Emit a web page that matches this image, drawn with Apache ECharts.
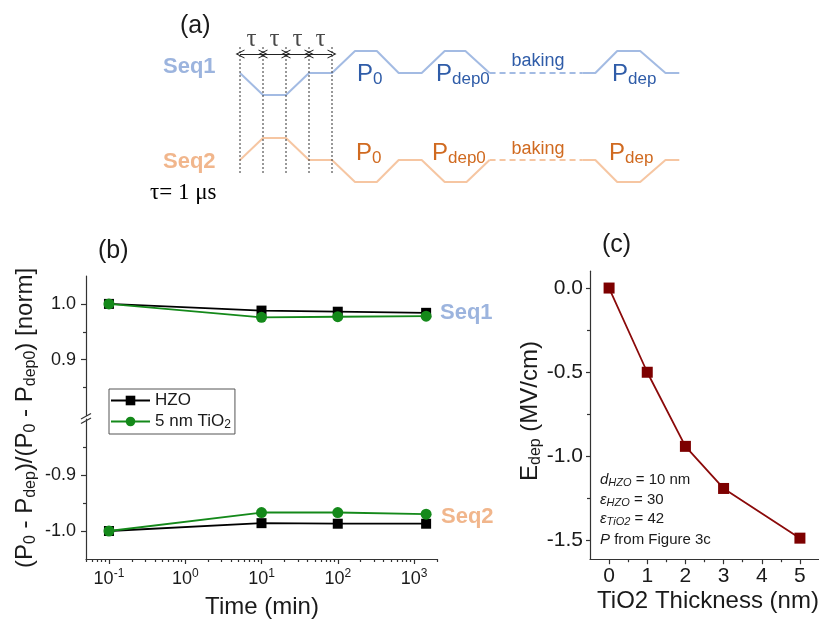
<!DOCTYPE html>
<html>
<head>
<meta charset="utf-8">
<script src="https://cdn.jsdelivr.net/npm/echarts@6/dist/echarts.min.js"></script>
<style>
html, body { margin: 0; padding: 0; background: #ffffff; }
#chart { width: 819px; height: 621px; }
</style>
</head>
<body>
<div id="chart"></div>
<script>
// ---------- (a) pulse sequences: time in units of tau, normalised level ----------
const seq1Time  = [0, 1, 2, 3, 4, 5, 5.95, 6.9, 7.9, 8.9, 9.8, 10.85, 14.9, 15.45, 16.4, 17.4, 18.5, 19.1];
const seq1Level = [0, -1, -1, 0, 0, 1, 1, 0, 0, 1, 1, 0, 0, 0, 1, 1, 0, 0];
const seq2Time  = [0, 1, 2, 3, 4, 5, 5.95, 6.9, 7.9, 8.9, 9.85, 10.85, 14.9, 15.45, 16.4, 17.4, 18.5, 19.1];
const seq2Level = [0, 1, 1, 0, 0, -1, -1, 0, 0, -1, -1, 0, 0, 0, -1, -1, 0, 0];
const bakingStart = 11;            // index where the baking interval begins
const bakingEnd = 12;              // index where it ends
const tauEdges = [0, 1, 2, 3, 4];  // boundaries of the four tau slots

// ---------- (b) normalised retention vs. time ----------
const timeMin  = [0.1, 10, 100, 1440];
const hzoSeq1  = [1.000, 0.988, 0.986, 0.984];
const tio2Seq1 = [1.000, 0.976, 0.977, 0.978];
const hzoSeq2  = [-1.000, -0.986, -0.987, -0.987];
const tio2Seq2 = [-1.000, -0.967, -0.967, -0.970];
const bUpperTicks = [0.9, 1.0];
const bUpperMinor = [0.85, 0.95];
const bLowerTicks = [-1.0, -0.9];
const bLowerMinor = [-0.95, -0.85];
const timeDecades = [0.1, 1, 10, 100, 1000];

// ---------- (c) depolarisation field vs. TiO2 thickness ----------
const tio2Thickness = [0, 1, 2, 3, 5];
const eDep = [0.0, -0.50, -0.94, -1.19, -1.485];
const cYTicks = [0.0, -0.5, -1.0, -1.5];
const cYMinor = [-0.25, -0.75, -1.25];
const cXTicks = [0, 1, 2, 3, 4, 5];
const cXMinor = [0.5, 1.5, 2.5, 3.5, 4.5];

const SANS = '"Liberation Sans", Arial, Helvetica, sans-serif';
const SERIF = '"Liberation Serif", "Times New Roman", serif';
const INK = '#1a1a1a';
const SEQ1_LINE = '#a3bbe3', SEQ1_HEAD = '#9cb4de', SEQ1_TEXT = '#2f5ca8';
const SEQ2_LINE = '#f6c6a2', SEQ2_HEAD = '#f1b68c', SEQ2_TEXT = '#d06a20';

// minor ticks of the logarithmic time axis (2..9 of every decade)
const logMinor = [];
[0.01, 0.1, 1, 10, 100, 1000].forEach(d => {
  for (let k = 2; k <= 9; k++) {
    const v = +(k * d).toPrecision(3);
    if (v >= 0.05 && v <= 2000) logMinor.push(v);
  }
});

function pts(xs, ys, from, to) {
  const out = [];
  for (let i = from; i <= to; i++) out.push([xs[i], ys[i]]);
  return out;
}
function zip(xs, ys) { return xs.map((x, i) => [x, ys[i]]); }

const chart = echarts.init(document.getElementById('chart'), null, { renderer: 'canvas' });

const hidden = { show: false };
const aX = gi => ({ gridIndex: gi, type: 'value', min: 0, max: 19.1, show: false });

function waveSeries(grid, xs, ys, color) {
  const base = {
    type: 'line', xAxisIndex: grid, yAxisIndex: grid, symbol: 'none', silent: true,
    lineStyle: { color: color, width: 2 }, animation: false, clip: false
  };
  return [
    Object.assign({}, base, { data: pts(xs, ys, 0, bakingStart) }),
    Object.assign({}, base, { data: pts(xs, ys, bakingStart, bakingEnd),
      lineStyle: { color: color, width: 2, type: [6, 4] } }),
    Object.assign({}, base, { data: pts(xs, ys, bakingEnd, xs.length - 1) })
  ];
}

const chevron = 'path://M0,10 L5,0 L10,10 L8.8,10 L5,2.6 L1.2,10 Z';
const tauSlots = tauEdges.slice(0, -1).map((e, i) => [e, tauEdges[i + 1]]);

const edgeSeries = tauEdges.map((e, i) => ({
  type: 'line', xAxisIndex: 0, yAxisIndex: 0, symbol: 'none', silent: true, clip: false,
  data: [[e, 0], [e, 1]],
  lineStyle: { color: '#333', width: 1, type: [2, 2] },
  markLine: i === 0 ? {
    silent: true, symbol: [chevron, chevron], symbolSize: [9, 9],
    label: { show: false },
    lineStyle: { color: '#222', width: 1, type: 'solid' },
    data: tauSlots.map(s => [{ coord: [s[0], 0.93] }, { coord: [s[1], 0.93] }])
  } : undefined
}));

const tauLabels = {
  type: 'scatter', xAxisIndex: 0, yAxisIndex: 0, silent: true, clip: false,
  symbolSize: 1, itemStyle: { color: 'rgba(0,0,0,0)' },
  data: tauSlots.map(s => [(s[0] + s[1]) / 2, 1.04]),
  label: { show: true, position: 'inside', formatter: () => 'τ',
           fontFamily: SERIF, fontSize: 25, color: INK }
};

const bLine = (name, grid, ys, color, symbol, size) => ({
  name: name, type: 'line', xAxisIndex: grid, yAxisIndex: grid,
  data: zip(timeMin, ys), symbol: symbol, symbolSize: size,
  lineStyle: { color: color, width: 1.8 }, itemStyle: { color: color },
  animation: false
});

const subRich = (fs, fill, extra) => Object.assign({ fontSize: fs, lineHeight: fs - 2,
  verticalAlign: 'bottom', fontFamily: SANS, fill: fill }, extra || {});

function pLabel(x, y, sub, fill) {
  return {
    type: 'text', x: x, y: y, silent: true,
    style: {
      text: '{p|P}{s|' + sub + '}', align: 'left', verticalAlign: 'middle',
      rich: {
        p: { fontSize: 24, lineHeight: 28, fontFamily: SANS, fill: fill },
        s: subRich(17, fill)
      }
    }
  };
}
function plain(x, y, text, size, fill, extra) {
  return {
    type: 'text', x: x, y: y, silent: true,
    style: Object.assign({ text: text, fontSize: size, fontFamily: SANS, fill: fill,
      align: 'left', verticalAlign: 'middle' }, extra || {})
  };
}
function noteLine(y, lead, sub, rest) {
  return {
    type: 'text', x: 600, y: y, silent: true,
    style: {
      text: '{i|' + lead + '}' + (sub ? '{s|' + sub + '}' : '') + '{r|' + rest + '}',
      align: 'left', verticalAlign: 'middle',
      rich: {
        i: { fontSize: 15, lineHeight: 17, fontFamily: SANS, fontStyle: 'italic', fill: INK },
        s: { fontSize: 11, lineHeight: 10, fontFamily: SANS, fontStyle: 'italic',
             verticalAlign: 'bottom', fill: INK },
        r: { fontSize: 15, lineHeight: 17, fontFamily: SANS, fill: INK }
      }
    }
  };
}

const axisLineStyle = { show: true, onZero: false, lineStyle: { color: '#333', width: 1.2 } };
const noLine = { show: false, onZero: false };
const tickStyle = { lineStyle: { color: '#333', width: 1.2 } };
const labelFont = { fontFamily: SANS, color: INK };

const option = {
  animation: false,
  backgroundColor: '#ffffff',
  grid: [
    { left: 240, right: 139.7, top: 45, height: 128 },     // (a) timing marks
    { left: 240, right: 139.7, top: 51, height: 44 },      // (a) Seq1
    { left: 240, right: 139.7, top: 138, height: 44 },     // (a) Seq2
    { left: 86, width: 351, top: 276, height: 139.5 },     // (b) upper branch
    { left: 86, width: 351, top: 419, height: 140 },       // (b) lower branch
    { left: 590, right: -8, top: 271.2, bottom: 61.8 }     // (c)
  ],
  xAxis: [
    aX(0), aX(1), aX(2),
    { gridIndex: 3, type: 'log', min: 0.05, max: 2000, show: false },
    { gridIndex: 4, type: 'log', min: 0.05, max: 2000, position: 'bottom',
      axisLine: axisLineStyle, splitLine: hidden, minorTick: hidden,
      axisTick: Object.assign({ customValues: timeDecades, length: 5 }, tickStyle),
      axisLabel: Object.assign({ customValues: timeDecades, fontSize: 18, lineHeight: 22, margin: 9,
        formatter: v => '10{sup|' + Math.round(Math.log10(v)) + '}',
        rich: { sup: { fontSize: 12, lineHeight: 12, verticalAlign: 'top', fontFamily: SANS, color: INK } }
      }, labelFont) },
    { gridIndex: 4, type: 'log', min: 0.05, max: 2000, position: 'bottom', offset: 0,
      axisLine: noLine, splitLine: hidden, axisLabel: hidden,
      axisTick: Object.assign({ customValues: logMinor, length: 3 }, tickStyle) },
    { gridIndex: 5, type: 'value', min: -0.5, max: 5.5, position: 'bottom',
      axisLine: axisLineStyle, splitLine: hidden,
      axisTick: Object.assign({ customValues: cXTicks, length: 5 }, tickStyle),
      axisLabel: Object.assign({ customValues: cXTicks, fontSize: 21, margin: 7,
        formatter: v => String(v) }, labelFont) },
    { gridIndex: 5, type: 'value', min: -0.5, max: 5.5, position: 'bottom', offset: 0,
      axisLine: noLine, splitLine: hidden, axisLabel: hidden,
      axisTick: Object.assign({ customValues: cXMinor, length: 3 }, tickStyle) }
  ],
  yAxis: [
    { gridIndex: 0, type: 'value', min: 0, max: 1, show: false },
    { gridIndex: 1, type: 'value', min: -1, max: 1, show: false },
    { gridIndex: 2, type: 'value', min: -1, max: 1, show: false },
    { gridIndex: 3, type: 'value', min: 0.8, max: 1.05, position: 'left',
      axisLine: axisLineStyle, splitLine: hidden,
      axisTick: Object.assign({ customValues: bUpperTicks, length: 5 }, tickStyle),
      axisLabel: Object.assign({ customValues: bUpperTicks, fontSize: 18, margin: 10,
        formatter: v => v.toFixed(1) }, labelFont) },
    { gridIndex: 4, type: 'value', min: -1.05, max: -0.8, position: 'left',
      axisLine: axisLineStyle, splitLine: hidden,
      axisTick: Object.assign({ customValues: bLowerTicks, length: 5 }, tickStyle),
      axisLabel: Object.assign({ customValues: bLowerTicks, fontSize: 18, margin: 10,
        formatter: v => v.toFixed(1) }, labelFont) },
    { gridIndex: 5, type: 'value', min: -1.61, max: 0.1, position: 'left',
      axisLine: axisLineStyle, splitLine: hidden,
      axisTick: Object.assign({ customValues: cYTicks, length: 4 }, tickStyle),
      axisLabel: Object.assign({ customValues: cYTicks, fontSize: 21, margin: 7,
        formatter: v => v.toFixed(1) }, labelFont) },
    { gridIndex: 3, type: 'value', min: 0.8, max: 1.05, position: 'left', offset: 0,
      axisLine: noLine, splitLine: hidden, axisLabel: hidden,
      axisTick: Object.assign({ customValues: bUpperMinor, length: 3 }, tickStyle) },
    { gridIndex: 4, type: 'value', min: -1.05, max: -0.8, position: 'left', offset: 0,
      axisLine: noLine, splitLine: hidden, axisLabel: hidden,
      axisTick: Object.assign({ customValues: bLowerMinor, length: 3 }, tickStyle) },
    { gridIndex: 5, type: 'value', min: -1.61, max: 0.1, position: 'left', offset: 0,
      axisLine: noLine, splitLine: hidden, axisLabel: hidden,
      axisTick: Object.assign({ customValues: cYMinor, length: 3 }, tickStyle) }
  ],
  legend: {
    data: ['HZO', '5 nm TiO2'],
    orient: 'vertical', left: 109, top: 389,
    padding: [2, 4, 3, 1], itemGap: 2, itemWidth: 39, itemHeight: 12,
    borderColor: '#555', borderWidth: 1, borderRadius: 0,
    selectedMode: false,
    formatter: n => n === '5 nm TiO2' ? '5 nm TiO{sub|2}' : n,
    textStyle: { fontFamily: SANS, fontSize: 17, lineHeight: 19, color: INK,
      rich: { sub: { fontSize: 12, lineHeight: 10, verticalAlign: 'bottom', fontFamily: SANS, color: INK } } }
  },
  series: [].concat(
    waveSeries(1, seq1Time, seq1Level, SEQ1_LINE),
    waveSeries(2, seq2Time, seq2Level, SEQ2_LINE),
    edgeSeries,
    [tauLabels],
    [
      bLine('HZO', 3, hzoSeq1, '#000000', 'rect', 10),
      bLine('5 nm TiO2', 3, tio2Seq1, '#14891a', 'circle', 11),
      bLine('HZO', 4, hzoSeq2, '#000000', 'rect', 10),
      bLine('5 nm TiO2', 4, tio2Seq2, '#14891a', 'circle', 11),
      {
        name: 'Edep', type: 'line', xAxisIndex: 6, yAxisIndex: 5,
        data: zip(tio2Thickness, eDep), symbol: 'rect', symbolSize: 11,
        lineStyle: { color: '#8b0a0a', width: 1.8 }, itemStyle: { color: '#7d0000' }
      }
    ]
  ),
  graphic: [
    // panel letters
    plain(180, 26, '(a)', 25, INK),
    plain(98, 251, '(b)', 25, INK),
    plain(602, 245, '(c)', 25, INK),
    // (a) sequence names and pulse labels
    plain(163, 67, 'Seq1', 22, SEQ1_HEAD, { fontWeight: 'bold' }),
    plain(163, 162, 'Seq2', 22, SEQ2_HEAD, { fontWeight: 'bold' }),
    plain(150, 193, 'τ= 1 μs', 23, '#000', { fontFamily: SERIF }),
    pLabel(357, 74, '0', SEQ1_TEXT),
    pLabel(436, 74, 'dep0', SEQ1_TEXT),
    plain(538, 61, 'baking', 18, SEQ1_TEXT, { align: 'center' }),
    pLabel(612, 74, 'dep', SEQ1_TEXT),
    pLabel(356, 153, '0', SEQ2_TEXT),
    pLabel(432, 153, 'dep0', SEQ2_TEXT),
    plain(538, 149, 'baking', 18, SEQ2_TEXT, { align: 'center' }),
    pLabel(609, 153, 'dep', SEQ2_TEXT),
    // (b) branch names
    plain(440, 313, 'Seq1', 22, SEQ1_HEAD, { fontWeight: 'bold' }),
    plain(441, 517, 'Seq2', 22, SEQ2_HEAD, { fontWeight: 'bold' }),
    // (b) axis titles
    {
      type: 'text', x: 25, y: 418, rotation: Math.PI / 2, silent: true,
      style: {
        text: '(P{s|0} - P{s|dep})/(P{s|0} - P{s|dep0}) [norm]',
        fontSize: 24, lineHeight: 28, fontFamily: SANS, fill: INK,
        align: 'center', verticalAlign: 'middle',
        rich: { s: subRich(16, INK) }
      }
    },
    plain(262, 607, 'Time (min)', 24, INK, { align: 'center' }),
    // broken-axis marks
    { type: 'line', silent: true, shape: { x1: 81, y1: 419, x2: 91, y2: 413.5 }, style: { stroke: '#333', lineWidth: 1.2 } },
    { type: 'line', silent: true, shape: { x1: 81, y1: 423.5, x2: 91, y2: 418 }, style: { stroke: '#333', lineWidth: 1.2 } },
    // (c) axis titles
    {
      type: 'text', x: 530, y: 411, rotation: Math.PI / 2, silent: true,
      style: {
        text: 'E{s|dep} (MV/cm)', fontSize: 24, lineHeight: 28, fontFamily: SANS, fill: INK,
        align: 'center', verticalAlign: 'middle',
        rich: { s: subRich(16, INK) }
      }
    },
    plain(708, 601, 'TiO2 Thickness (nm)', 24, INK, { align: 'center' }),
    // (c) model parameters
    noteLine(480, 'd', 'HZO', ' = 10 nm'),
    noteLine(500, 'ε', 'HZO', ' = 30'),
    noteLine(519, 'ε', 'TiO2', ' = 42'),
    noteLine(540, 'P', '', ' from Figure 3c')
  ]
};

chart.setOption(option);
</script>
</body>
</html>
